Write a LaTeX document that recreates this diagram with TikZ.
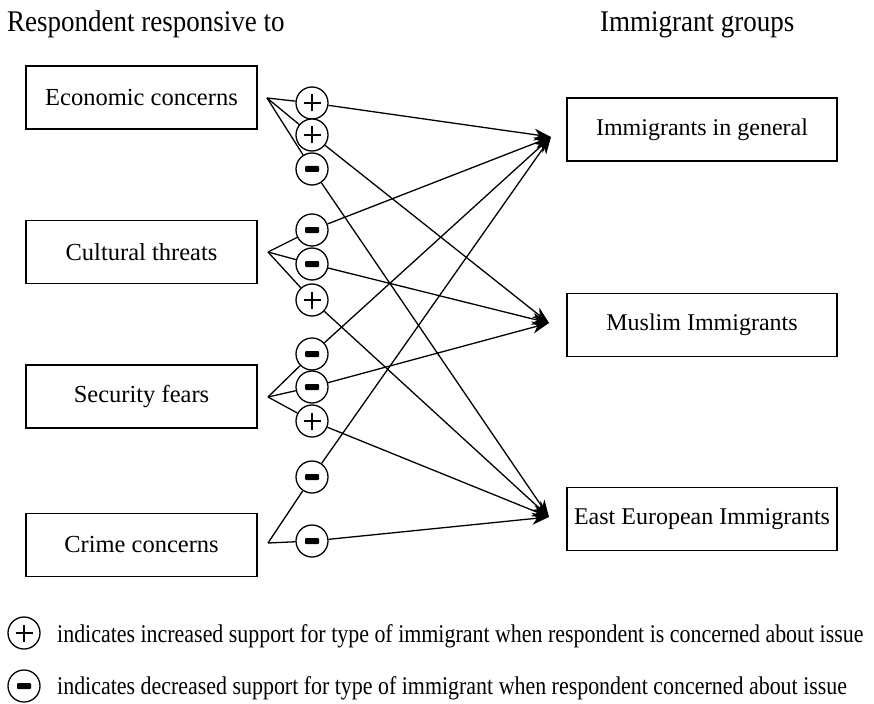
\documentclass[tikz,border=0pt]{standalone}
\usepackage{fontspec}
\setmainfont{Liberation Serif}
\newfontfamily\condfont[FakeStretch=0.9]{Liberation Serif}
\newfontfamily\legfont[FakeStretch=0.86]{Liberation Serif}
\usetikzlibrary{arrows.meta}
\pgfdeclarelayer{bg}
\pgfsetlayers{bg,main}
\tikzset{
  box/.style={draw, line width=1.6pt, minimum width=231pt, minimum height=63pt, inner sep=0pt, font=\fontsize{24.5}{28}\selectfont},
  rbox/.style={draw, line width=1.6pt, minimum width=270pt, minimum height=63pt, inner sep=0pt, font=\fontsize{24}{28}\selectfont},
  sgn/.style={circle, draw, line width=1.3pt, fill=white, minimum size=32pt, inner sep=0pt},
  plusc/.style={sgn, path picture={
      \draw[black, line width=1.8pt] ([xshift=-8.5pt]path picture bounding box.center) -- ([xshift=8.5pt]path picture bounding box.center);
      \draw[black, line width=1.8pt] ([yshift=-8.5pt]path picture bounding box.center) -- ([yshift=8.5pt]path picture bounding box.center);}},
  minusc/.style={sgn, path picture={
      \fill[black, rounded corners=1pt] ([xshift=-7pt,yshift=-3pt]path picture bounding box.center) rectangle ([xshift=7pt,yshift=3pt]path picture bounding box.center);}},
  link/.style={line width=1.3pt},
  arr/.style={line width=1.3pt, -{Stealth[length=17pt,width=12pt,inset=5pt]}},
  head/.style={anchor=base west, inner sep=0pt, font=\condfont\fontsize{30}{32}\selectfont},
  legend/.style={anchor=base west, inner sep=0pt, font=\legfont\fontsize{25.5}{28}\selectfont},
}
\begin{document}
\begin{tikzpicture}[x=1pt,y=-1pt]
\useasboundingbox (0,0) rectangle (874,703);
% headers
\node[head] (h1) at (7,32) {Respondent responsive to};
\node[head] (h2) at (600,32) {Immigrant groups};
% left boxes
\node[box] (ec) at (141.5,97.5) {Economic concerns};
\node[box] (ct) at (141.5,252) {Cultural threats};
\node[box] (sf) at (141.5,396.5) {Security fears};
\node[box] (cc) at (141.5,545) {Crime concerns};
% right boxes
\node[rbox] (ig) at (702,129.5) {Immigrants in general};
\node[rbox] (mi) at (702,325) {Muslim Immigrants};
\node[rbox] (ee) at (702,519) {East European Immigrants};
% fan points and arrow tips
\coordinate (fE) at (267,98);
\coordinate (fC) at (268,252);
\coordinate (fS) at (268,397);
\coordinate (fR) at (268,543);
\coordinate (tG) at (551,137);
\coordinate (tM) at (549,323);
\coordinate (tE) at (549,517);
% sign circles
\node[plusc]  (e1) at (312,103) {};
\node[plusc]  (e2) at (312,135) {};
\node[minusc] (e3) at (312,169) {};
\node[minusc] (c1) at (312,230) {};
\node[minusc] (c2) at (312,264) {};
\node[plusc]  (c3) at (312,300) {};
\node[minusc] (s1) at (312,354) {};
\node[minusc] (s2) at (312,387) {};
\node[plusc]  (s3) at (312,421) {};
\node[minusc] (r1) at (312,477) {};
\node[minusc] (r2) at (312,541) {};
\begin{pgfonlayer}{bg}
\draw[link] (fE) -- (e1); \draw[arr] (e1) -- (tG);
\draw[link] (fE) -- (e2); \draw[arr] (e2) -- (tM);
\draw[link] (fE) -- (e3); \draw[arr] (e3) -- (tE);
\draw[link] (fC) -- (c1); \draw[arr] (c1) -- (tG);
\draw[link] (fC) -- (c2); \draw[arr] (c2) -- (tM);
\draw[link] (fC) -- (c3); \draw[arr] (c3) -- (tE);
\draw[link] (fS) -- (s1); \draw[arr] (s1) -- (tG);
\draw[link] (fS) -- (s2); \draw[arr] (s2) -- (tM);
\draw[link] (fS) -- (s3); \draw[arr] (s3) -- (tE);
\draw[link] (fR) -- (r1); \draw[arr] (r1) -- (tG);
\draw[link] (fR) -- (r2); \draw[arr] (r2) -- (tE);
\end{pgfonlayer}
% legend
\node[plusc]  (lp) at (24,633) {};
\node[minusc] (lm) at (24,686) {};
\node[legend] (lt1) at (57,642) {indicates increased support for type of immigrant when respondent is concerned about issue};
\node[legend] (lt2) at (57,694) {indicates decreased support for type of immigrant when respondent concerned about issue};
\end{tikzpicture}
\end{document}
